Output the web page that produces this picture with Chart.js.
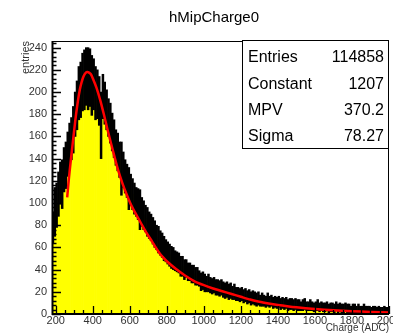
<!DOCTYPE html>
<html><head><meta charset="utf-8">
<script src="https://cdn.jsdelivr.net/npm/chart.js@4/dist/chart.umd.min.js"></script>
<style>html,body{margin:0;padding:0;background:#fff;overflow:hidden}#wrap{width:393px;height:336px}</style>
</head><body><div id="wrap"><canvas id="c" width="393" height="336"></canvas></div>
<script>
// ---- data ----
const titleText = 'hMipCharge0';
const xTitle = 'Charge (ADC)';
const yTitle = 'entries';
const xTickValues = [200, 400, 600, 800, 1000, 1200, 1400, 1600, 1800, 2000];
const yTickValues = [0, 20, 40, 60, 80, 100, 120, 140, 160, 180, 200, 220, 240];
const binLow = 180;   // first bin edge (ADC)
const binWidth = 10;  // bin width (ADC)
const counts = [
  78, 92, 98, 108, 118, 117, 130, 134, 144, 152,
  158, 166, 180, 188, 199, 202, 209, 211, 214, 212,
  213, 206, 207, 199, 198, 192, 170, 196, 190, 184,
  177, 172, 164, 158, 150, 146, 139, 131, 130, 124,
  120, 113, 112, 108, 104, 101, 99, 94, 92, 89,
  86, 83, 80, 78, 75, 72, 69, 67, 64, 62,
  59, 57, 55, 53, 51, 50, 48, 47, 46, 43,
  43, 40, 41, 38, 38, 36, 36, 34, 34, 32,
  29, 30, 28, 27, 28, 26, 25, 26, 24, 24,
  23, 24, 22, 21, 22, 20, 21, 19, 20, 18,
  18, 17, 18, 16, 17, 15, 16, 14, 15, 14,
  13, 14, 12, 13, 12, 11, 13, 11, 12, 10,
  11, 10, 11, 9, 10, 9, 10, 8, 9, 9,
  8, 9, 8, 8, 7, 8, 9, 7, 7, 8,
  7, 6, 7, 8, 6, 7, 6, 6, 7, 5,
  6, 6, 5, 7, 5, 6, 5, 5, 6, 5,
  5, 4, 5, 5, 4, 5, 4, 4, 5, 4,
  4, 4, 3, 4, 4, 3, 4, 3, 3, 4,
  3, 3
];
const errors = [
  14, 22, 20, 20, 19, 22, 20, 21, 20, 20,
  19, 21, 20, 22, 24, 25, 26, 27, 26, 28,
  26, 27, 23, 24, 22, 22, 30, 20, 19, 18,
  17, 18, 17, 17, 16, 17, 16, 24, 16, 15,
  15, 19, 14, 14, 14, 13, 14, 18, 13, 13,
  12, 13, 12, 12, 12, 12, 11, 12, 11, 11,
  11, 10, 10, 10, 10, 10, 9, 9, 9, 9,
  9, 9, 8, 8, 8, 8, 8, 8, 8, 7,
  8, 8, 8, 7, 8, 7, 7, 7, 7, 7,
  7, 7, 7, 7, 7, 7, 7, 6, 7, 6,
  6, 6, 6, 6, 6, 6, 6, 6, 6, 6,
  6, 6, 5, 6, 5, 5, 6, 5, 5, 5,
  5, 5, 5, 5, 5, 5, 5, 5, 5, 5,
  5, 5, 5, 5, 4, 5, 5, 4, 4, 5,
  4, 4, 4, 5, 4, 4, 4, 4, 4, 4,
  4, 4, 4, 4, 4, 4, 4, 4, 4, 4,
  4, 3, 4, 4, 3, 4, 3, 3, 4, 3,
  3, 3, 3, 3, 3, 3, 3, 3, 3, 3,
  3, 3
];
const fitX = [262,270,280,290,300,310,320,330,340,350,360,370,380,390,400,420,440,460,480,500,520,540,560,580,600,620,640,660,680,700,720,740,760,780,800,850,900,950,1000,1050,1100,1150,1200,1250,1300,1350,1400,1450,1500,1600,1700,1800,1900,2000];
const fitY = [105,120,136,151,166,180,192,202,209,214,217,218,217.5,216,212.5,204,193,180,166,153,140,128,118,109,101,94,88,82,76,70.5,65.5,60,55,51,47.5,40.5,34.5,29.5,26,23,20.5,18,15.5,13,11,9.5,8.2,7,6,4.5,3.4,2.5,1.9,1.4];
const statsLabels = ['Entries', 'Constant', 'MPV', 'Sigma'];
const statsValues = ['114858', '1207', '370.2', '78.27'];

// ---- build library data ----
const centers = counts.map((_, i) => binLow + binWidth * (i + 0.5));
const histData = centers.map((x, i) => ({x: x, y: counts[i]}));
const errData = centers.map((x, i) => ({x: x, y: [counts[i] - errors[i], counts[i] + errors[i]]}));
const fitData = fitX.map((x, i) => ({x: x, y: fitY[i]}));

const FONT = "'Liberation Sans', Arial, Helvetica, sans-serif";

const rootPlugin = {
  id: 'rootStyle',
  afterDatasetsDraw(chart) {
    const ctx = chart.ctx, a = chart.chartArea;
    const xs = chart.scales.x, ys = chart.scales.y;
    ctx.save();
    ctx.strokeStyle = '#000';
    ctx.lineWidth = 1.3;
    ctx.beginPath();
    for (let v = 0; v <= ys.max; v += 4) {
      const p = Math.round(ys.getPixelForValue(v)) + 0.5;
      const len = (v % 20 === 0) ? 9 : 4.5;
      ctx.moveTo(a.left, p); ctx.lineTo(a.left + len, p);
    }
    for (let v = 200; v <= xs.max; v += 50) {
      const p = Math.round(xs.getPixelForValue(v)) + 0.5;
      const len = (v % 200 === 0) ? 8 : 4;
      ctx.moveTo(p, a.bottom); ctx.lineTo(p, a.bottom - len);
    }
    ctx.stroke();
    ctx.lineWidth = 1;
    ctx.strokeRect(a.left + 0.5, a.top + 0.5, a.right - a.left - 1, a.bottom - a.top);
    ctx.lineWidth = 2;
    ctx.beginPath();
    ctx.moveTo(a.left + 0.5, a.top); ctx.lineTo(a.left + 0.5, a.bottom + 1);
    ctx.moveTo(a.left, a.bottom); ctx.lineTo(a.right, a.bottom);
    ctx.stroke();
    const bx = 242, by = 40, bw = 147, bh = 108;
    ctx.fillStyle = '#fff';
    ctx.fillRect(bx, by, bw, bh);
    ctx.lineWidth = 1;
    ctx.strokeRect(bx + 0.5, by + 0.5, bw - 1, bh);
    ctx.fillStyle = '#000';
    ctx.font = '16px ' + FONT;
    ctx.textBaseline = 'alphabetic';
    const base = [62, 88.5, 115, 141];
    statsLabels.forEach((l, i) => {
      ctx.textAlign = 'left'; ctx.fillText(l, 248, base[i]);
      ctx.textAlign = 'right'; ctx.fillText(statsValues[i], 384, base[i]);
    });
    ctx.font = '15px ' + FONT;
    ctx.textAlign = 'center';
    ctx.fillText(titleText, 214, 21.5);
    ctx.restore();
  }
};

new Chart(document.getElementById('c'), {
  type: 'bar',
  data: {
    datasets: [
      {type: 'line', data: fitData, borderColor: '#ff0000', borderWidth: 2.5, pointRadius: 0, tension: 0.25, fill: false, order: 0},
      {data: errData, backgroundColor: '#000000', borderWidth: 0, grouped: false, barPercentage: 1, categoryPercentage: 1, order: 1},
      {data: histData, backgroundColor: '#ffff00', borderWidth: 0, grouped: false, barPercentage: 1, categoryPercentage: 1, order: 2}
    ]
  },
  options: {
    responsive: false,
    animation: false,
    devicePixelRatio: 1,
    layout: {padding: {top: 41, right: 4, left: 0, bottom: 0}},
    plugins: {legend: {display: false}, tooltip: {enabled: false}, title: {display: false}},
    scales: {
      x: {
        type: 'linear', min: 180, max: 2000, offset: false,
        grid: {display: false, drawTicks: false, offset: false}, border: {display: false},
        ticks: {autoSkip: false, maxRotation: 0, minRotation: 0, padding: 0,
                font: {family: FONT, size: 11}, color: '#333', callback: v => String(v)},
        afterBuildTicks(s) { s.ticks = xTickValues.map(v => ({value: v})); },
        title: {display: true, text: xTitle, align: 'end', font: {family: FONT, size: 10}, color: '#333', padding: {top: 0, bottom: 1.5}},
        afterFit(s) { s.height = 22; s.paddingLeft = 0; s.paddingRight = 0; }
      },
      y: {
        type: 'linear', min: 0, max: 246,
        grid: {display: false, drawTicks: false}, border: {display: false},
        ticks: {autoSkip: false, padding: 5,
                font: {family: FONT, size: 11}, color: '#333', callback: v => String(v)},
        afterBuildTicks(s) { s.ticks = yTickValues.map(v => ({value: v})); },
        title: {display: true, text: yTitle, align: 'end', font: {family: FONT, size: 11}, color: '#333', padding: {top: 19, bottom: 0}},
        afterFit(s) { s.width = 52; s.paddingTop = 0; s.paddingBottom = 0; }
      }
    }
  },
  plugins: [rootPlugin]
});
</script>
</body></html>
